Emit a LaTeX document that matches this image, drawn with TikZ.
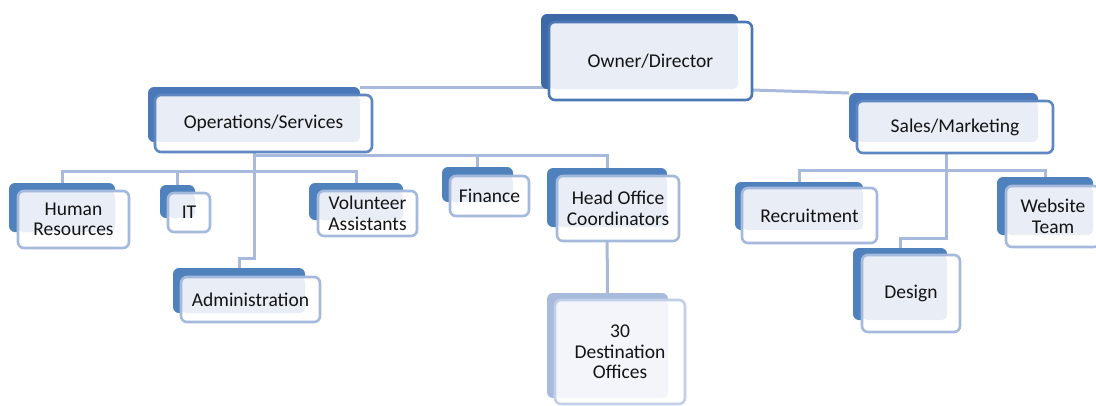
\documentclass[tikz,border=0pt]{standalone}
\usepackage{fontspec}
\setmainfont{Carlito}
\usetikzlibrary{backgrounds}
\definecolor{backA}{HTML}{3D6AA6}
\definecolor{backB}{HTML}{4A78B8}
\definecolor{backC}{HTML}{4F81BD}
\definecolor{backD}{HTML}{A9BBDD}
\definecolor{edgeA}{HTML}{4B77B3}
\definecolor{edgeB}{HTML}{5F87C1}
\definecolor{edgeC}{HTML}{A5B9DC}
\definecolor{edgeD}{HTML}{C2CFE8}
\definecolor{tintA}{HTML}{E8EDF6}
\definecolor{tintD}{HTML}{F3F5FA}
\definecolor{wire}{HTML}{A7B9DC}
\definecolor{ink}{HTML}{141414}
\tikzset{
 backbox/.style={fill=#1, rounded corners=6pt, inner sep=0pt, outer sep=0pt, anchor=north west},
 frontbox/.style={draw=#1, line width=2.6pt, fill=white, rounded corners=6pt, inner sep=0pt, outer sep=0pt, anchor=north west, align=center, font=\fontsize{19.5}{20.5}\selectfont, text=ink},
 tint/.style 2 args={path picture={\fill[#2, rounded corners=5pt] (path picture bounding box.north west) rectangle (#1.south east);}},
 conn/.style={draw=wire, line width=3pt},
}
\begin{document}
\begin{tikzpicture}[x=1pt, y=-1pt]
\useasboundingbox (0,0) rectangle (1096,405);
% Owner
\node[backbox=backA, minimum width=197pt, minimum height=75pt] (ownB) at (541,14) {};
\node[frontbox=edgeA, tint={ownB}{tintA}, minimum width=203pt, minimum height=78pt] (own) at (549,22) {Owner/Director};
% Operations
\node[backbox=backB, minimum width=212pt, minimum height=55pt] (opsB) at (148,87) {};
\node[frontbox=edgeB, tint={opsB}{tintA}, minimum width=217pt, minimum height=57pt] (ops) at (155,95) {Operations/Services};
% Sales
\node[backbox=backB, minimum width=189pt, minimum height=49pt] (salB) at (849,93) {};
\node[frontbox=edgeB, tint={salB}{tintA}, minimum width=196pt, minimum height=52pt] (sal) at (857,101) {Sales/Marketing};
% HR
\node[backbox=backC, minimum width=106pt, minimum height=49pt] (hrB) at (9,183) {};
\node[frontbox=edgeC, tint={hrB}{tintA}, minimum width=111pt, minimum height=57pt] (hr) at (18,191) {Human\\Resources};
% IT
\node[backbox=backC, minimum width=35pt, minimum height=33pt] (itB) at (160,185) {};
\node[frontbox=edgeC, tint={itB}{tintA}, minimum width=42pt, minimum height=39pt] (it) at (168,193) {IT};
% Volunteer
\node[backbox=backC, minimum width=94pt, minimum height=37pt] (volB) at (309,183) {};
\node[frontbox=edgeC, tint={volB}{tintA}, minimum width=99pt, minimum height=45pt] (vol) at (318,191) {Volunteer\\Assistants};
% Finance
\node[backbox=backC, minimum width=71pt, minimum height=35pt] (finB) at (442,167) {};
\node[frontbox=edgeC, tint={finB}{tintA}, minimum width=79pt, minimum height=40pt] (fin) at (450,176) {Finance};
% Head Office
\node[backbox=backC, minimum width=120pt, minimum height=59pt] (hoB) at (547,168) {};
\node[frontbox=edgeC, tint={hoB}{tintA}, minimum width=122pt, minimum height=65pt] (ho) at (557,176) {Head Office\\Coordinators};
% Administration
\node[backbox=backC, minimum width=132pt, minimum height=45pt] (admB) at (173,268) {};
\node[frontbox=edgeC, tint={admB}{tintA}, minimum width=139pt, minimum height=45pt] (adm) at (181,277) {Administration};
% 30 Destination Offices
\node[backbox=backD, minimum width=121pt, minimum height=105pt] (dstB) at (547,293) {};
\node[frontbox=edgeD, tint={dstB}{tintD}, minimum width=130pt, minimum height=104pt] (dst) at (555,300) {30\\Destination\\Offices};
% Recruitment
\node[backbox=backC, minimum width=128pt, minimum height=48pt] (recB) at (735,182) {};
\node[frontbox=edgeC, tint={recB}{tintA}, minimum width=135pt, minimum height=55pt] (rec) at (742,188) {Recruitment};
% Design
\node[backbox=backC, minimum width=94pt, minimum height=72pt] (desB) at (853,248) {};
\node[frontbox=edgeC, tint={desB}{tintA}, minimum width=98pt, minimum height=77pt] (des) at (862,255) {Design};
% Website Team
\node[backbox=backC, minimum width=96pt, minimum height=58pt] (webB) at (997,177) {};
\node[frontbox=edgeC, tint={webB}{tintA}, minimum width=94pt, minimum height=61pt] (web) at (1006,186) {Website\\Team};
% connectors
\coordinate (busL) at (254,171);
\coordinate (busR) at (254,155);
\coordinate (admJ) at (254,258);
\coordinate (ownR) at (752,90);
\coordinate (sBus) at (946,170);
\coordinate (sJog) at (946,238);
\begin{scope}[on background layer]
\fill[white] (0,0) rectangle (1096,405);
\draw[conn] (opsB.north east) -- (opsB.north east -| own.west);
\draw[conn] (ownR) -- (salB.north west);
\draw[conn] (ops.south -| busL) -- (admJ) -| (admB.north);
\draw[conn] (hrB.north) |- (busL);
\draw[conn] (itB.north) -- (itB.north |- busL);
\draw[conn] (volB.north) |- (busL);
\draw[conn] (busR) -| (hoB.north);
\draw[conn] (finB.north) -- (finB.north |- busR);
\draw[conn] (hoB.south) -- (dstB.north);
\draw[conn] (sal.south -| sBus) -- (sJog) -| (desB.north);
\draw[conn] (recB.north) |- (sBus) -| (webB.north);
\end{scope}
\end{tikzpicture}
\end{document}
